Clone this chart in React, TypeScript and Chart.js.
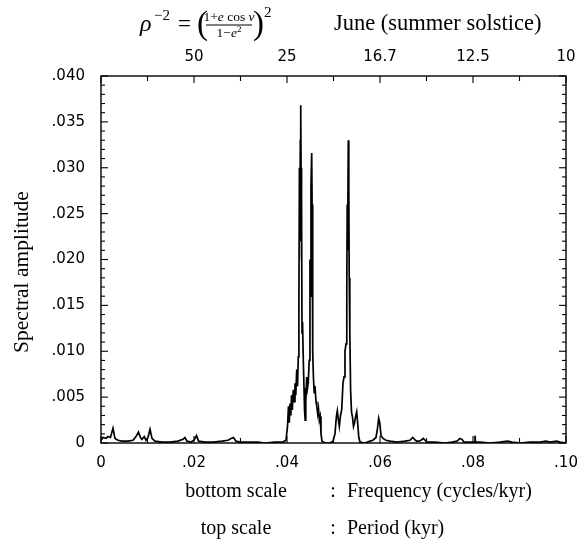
import React, { useEffect, useRef } from "react";
import { Chart, registerables } from "chart.js";

Chart.register(...registerables);

// Frequency (cycles/kyr)
const frequency = [
  0.0, 0.00043, 0.00108, 0.00151, 0.00204, 0.00258, 0.00301, 0.00366, 0.00452, 0.00581,
  0.00688, 0.00753, 0.00806, 0.00849, 0.00882, 0.00931, 0.00968, 0.01011, 0.01054, 0.01097,
  0.01161, 0.01312, 0.01484, 0.01656, 0.01763, 0.01806, 0.01849, 0.01935, 0.02, 0.02054,
  0.02097, 0.02237, 0.02409, 0.02602, 0.02731, 0.02796, 0.02849, 0.02903, 0.02989, 0.03204,
  0.03376, 0.03527, 0.03742, 0.03914, 0.03978, 0.04011, 0.04032, 0.04049, 0.04065, 0.04082,
  0.04097, 0.04114, 0.04135, 0.04151, 0.04172, 0.04189, 0.04209, 0.04226, 0.04243, 0.04256,
  0.04267, 0.04277, 0.04286, 0.04295, 0.04303, 0.0431, 0.04316, 0.04323, 0.04331, 0.0434,
  0.04353, 0.04366, 0.04378, 0.04391, 0.04404, 0.04424, 0.04441, 0.04458, 0.04477, 0.04494,
  0.04503, 0.04516, 0.04531, 0.0454, 0.04548, 0.04557, 0.04568, 0.04585, 0.04602, 0.04624,
  0.04641, 0.0466, 0.04677, 0.04695, 0.04714, 0.04731, 0.04753, 0.04817, 0.04925, 0.04989,
  0.05032, 0.0506, 0.05082, 0.05103, 0.05125, 0.05151, 0.05176, 0.05204, 0.05226, 0.05247,
  0.05269, 0.05286, 0.05295, 0.05303, 0.05318, 0.05329, 0.05338, 0.05351, 0.05368, 0.05387,
  0.05409, 0.0543, 0.05452, 0.0548, 0.05499, 0.05523, 0.05544, 0.0557, 0.05677, 0.05785,
  0.05849, 0.05914, 0.05946, 0.05972, 0.05996, 0.06022, 0.06065, 0.06129, 0.06215, 0.06366,
  0.06538, 0.06645, 0.06703, 0.06742, 0.06785, 0.06839, 0.06882, 0.06931, 0.06968, 0.07011,
  0.07183, 0.07398, 0.07548, 0.07656, 0.0772, 0.07763, 0.07806, 0.07935, 0.08032, 0.08043,
  0.08054, 0.08151, 0.08366, 0.08581, 0.08746, 0.08839, 0.09011, 0.09226, 0.09441, 0.0957,
  0.09656, 0.098, 0.09871, 0.1,
];

// Spectral amplitude
const amplitude = [
  0.0003, 0.0006, 0.0005, 0.0007, 0.0006, 0.0016, 0.0005, 0.0003, 0.0002, 0.0002,
  0.0003, 0.0007, 0.0012, 0.0006, 0.0004, 0.0007, 0.0003, 0.0006, 0.0015, 0.0005,
  0.0002, 0.0001, 0.0001, 0.0002, 0.0004, 0.0006, 0.0002, 0.0001, 0.0003, 0.0008,
  0.0002, 0.0001, 0.0001, 0.0002, 0.0003, 0.0005, 0.0006, 0.0002, 0.0001, 0.0001,
  0.0001, 0.0, 0.0001, 0.0001, 0.0003, 0.0018, 0.004, 0.0022, 0.0043, 0.003,
  0.0052, 0.0036, 0.0058, 0.0045, 0.0065, 0.0052, 0.008, 0.0062, 0.0094, 0.015,
  0.03, 0.022, 0.033, 0.0368, 0.03, 0.02, 0.026, 0.012, 0.0132, 0.0128,
  0.0085, 0.006, 0.0035, 0.0025, 0.0045, 0.0072, 0.006, 0.0066, 0.009, 0.02,
  0.016, 0.028, 0.0316, 0.026, 0.018, 0.01, 0.0072, 0.0055, 0.0062, 0.0045,
  0.004, 0.0032, 0.0038, 0.0025, 0.0029, 0.001, 0.0002, 0.0, 0.0, 0.0002,
  0.001, 0.0028, 0.0035, 0.0026, 0.0018, 0.003, 0.0036, 0.0065, 0.0072, 0.01,
  0.0108, 0.017, 0.026, 0.021, 0.033, 0.028, 0.018, 0.012, 0.0058, 0.0034,
  0.0028, 0.0018, 0.0022, 0.003, 0.0034, 0.002, 0.0006, 0.0001, 0.0, 0.0002,
  0.0003, 0.0006, 0.0016, 0.0027, 0.0022, 0.0008, 0.0005, 0.0003, 0.0002, 0.0001,
  0.0002, 0.0003, 0.0006, 0.0004, 0.0002, 0.0002, 0.0003, 0.0005, 0.0003, 0.0001,
  0.0001, 0.0, 0.0001, 0.0002, 0.0005, 0.0004, 0.0001, 0.0001, 0.0001, 0.0008,
  0.0001, 0.0001, 0.0, 0.0001, 0.0002, 0.0001, 0.0, 0.0001, 0.0001, 0.0002,
  0.0001, 0.0002, 0.0001, 0.0,
];

const bottomTickValues = [0, 0.02, 0.04, 0.06, 0.08, 0.1];
const bottomTickLabels = ["0", ".02", ".04", ".06", ".08", ".10"];
const topTickValues = [0.02, 0.04, 0.06, 0.08, 0.1];
const topTickLabels = ["50", "25", "16.7", "12.5", "10"];
const yTickValues = [0, 0.005, 0.01, 0.015, 0.02, 0.025, 0.03, 0.035, 0.04];
const yTickLabels = ["0", ".005", ".010", ".015", ".020", ".025", ".030", ".035", ".040"];

const SERIF = "'Liberation Serif', 'Times New Roman', serif";
const SANS = "'DejaVu Sans', sans-serif";

type Run = [string, string, number?];

function drawRuns(ctx: CanvasRenderingContext2D, x: number, y: number, runs: Run[]) {
  let cx = x;
  for (const [text, font, dy] of runs) {
    ctx.font = font;
    ctx.fillText(text, cx, y + (dy || 0));
    cx += ctx.measureText(text).width;
  }
  return cx;
}

function runsWidth(ctx: CanvasRenderingContext2D, runs: Run[]) {
  let w = 0;
  for (const [text, font] of runs) {
    ctx.font = font;
    w += ctx.measureText(text).width;
  }
  return w;
}

const decorPlugin = {
  id: "decor",
  afterDraw(chart: any) {
    const { ctx, chartArea: a, scales } = chart;
    const xs = scales.x;
    const ys = scales.y;
    ctx.save();
    ctx.strokeStyle = "#000";
    ctx.fillStyle = "#000";
    ctx.lineWidth = 1.4;
    ctx.strokeRect(a.left, a.top, a.right - a.left, a.bottom - a.top);

    const seg = (x1: number, y1: number, x2: number, y2: number) => {
      ctx.beginPath();
      ctx.moveTo(x1, y1);
      ctx.lineTo(x2, y2);
      ctx.stroke();
    };
    ctx.lineWidth = 1.1;
    for (let i = 0; i <= 40; i++) {
      const py = ys.getPixelForValue(i / 1000);
      const len = i % 5 === 0 ? 7 : 4;
      seg(a.left, py, a.left + len, py);
      seg(a.right, py, a.right - len, py);
    }
    for (let i = 0; i <= 10; i++) {
      const px = xs.getPixelForValue(i / 100);
      const len = i % 2 === 0 ? 7 : 5;
      seg(px, a.top, px, a.top + len);
      seg(px, a.bottom, px, a.bottom - len);
    }

    // y axis title
    ctx.save();
    ctx.translate(22, 272);
    ctx.rotate(-Math.PI / 2);
    ctx.textAlign = "center";
    ctx.textBaseline = "middle";
    ctx.font = `21.5px ${SERIF}`;
    ctx.fillText("Spectral amplitude", 0, 0);
    ctx.restore();

    ctx.textAlign = "left";
    ctx.textBaseline = "alphabetic";

    // title formula
    drawRuns(ctx, 140, 31, [["ρ", `italic 24px ${SERIF}`]]);
    drawRuns(ctx, 154, 20, [["−2", `15px ${SERIF}`]]);
    drawRuns(ctx, 178, 31, [["=", `23px ${SERIF}`]]);
    drawRuns(ctx, 197, 34, [["(", `33px ${SERIF}`]]);
    const num: Run[] = [
      ["1+", `13.5px ${SERIF}`],
      ["e", `italic 13.5px ${SERIF}`],
      [" cos ", `13.5px ${SERIF}`],
      ["v", `italic 13.5px ${SERIF}`],
    ];
    const nw = runsWidth(ctx, num);
    drawRuns(ctx, 229 - nw / 2, 21, num);
    ctx.lineWidth = 1;
    seg(206, 25, 252, 25);
    const den: Run[] = [
      ["1−", `13.5px ${SERIF}`],
      ["e", `italic 13.5px ${SERIF}`],
      ["2", `9px ${SERIF}`, -5],
    ];
    const dw = runsWidth(ctx, den);
    drawRuns(ctx, 229 - dw / 2, 37, den);
    drawRuns(ctx, 253, 34, [[")", `33px ${SERIF}`]]);
    drawRuns(ctx, 264, 17, [["2", `15px ${SERIF}`]]);
    drawRuns(ctx, 334, 30, [["June (summer solstice)", `22.5px ${SERIF}`]]);

    // bottom explanation lines
    ctx.font = `20px ${SERIF}`;
    ctx.textAlign = "center";
    ctx.fillText("bottom scale", 236, 497);
    ctx.fillText("top scale", 236, 534);
    ctx.fillText(":", 333, 497);
    ctx.fillText(":", 333, 534);
    ctx.textAlign = "left";
    ctx.fillText("Frequency (cycles/kyr)", 347, 497);
    ctx.fillText("Period (kyr)", 347, 534);
    ctx.restore();
  },
};

export default function App() {
  const canvasRef = useRef<HTMLCanvasElement | null>(null);

  useEffect(() => {
    if (!canvasRef.current) return;
    const tickFont = { family: SANS, size: 15 };
    const noPadX = (s: any, h: number) => {
      s.height = h;
      s.paddingLeft = 0;
      s.paddingRight = 0;
    };
    const chart = new Chart(canvasRef.current, {
      type: "scatter",
      data: {
        datasets: [
          {
            data: frequency.map((f, i) => ({ x: f, y: amplitude[i] })),
            borderColor: "#000",
            backgroundColor: "#000",
            borderWidth: 1.7,
            pointRadius: 0,
            showLine: true,
            fill: false,
            tension: 0,
          },
        ],
      },
      options: {
        animation: false,
        responsive: false,
        maintainAspectRatio: false,
        layout: { padding: { left: 0, right: 13, top: 0, bottom: 0 } },
        plugins: {
          legend: { display: false },
          tooltip: { enabled: false },
          title: { display: false },
        },
        scales: {
          x: {
            type: "linear",
            position: "bottom",
            min: 0,
            max: 0.1,
            grid: { display: false, drawTicks: false },
            border: { display: false },
            afterBuildTicks: (s: any) => {
              s.ticks = bottomTickValues.map((v) => ({ value: v }));
            },
            afterFit: (s: any) => noPadX(s, 104),
            ticks: {
              autoSkip: false,
              maxRotation: 0,
              padding: 11,
              color: "#000",
              font: tickFont,
              callback: (_v: any, i: number) => bottomTickLabels[i],
            },
          },
          x2: {
            type: "linear",
            position: "top",
            min: 0,
            max: 0.1,
            grid: { display: false, drawTicks: false },
            border: { display: false },
            afterBuildTicks: (s: any) => {
              s.ticks = topTickValues.map((v) => ({ value: v }));
            },
            afterFit: (s: any) => noPadX(s, 76),
            ticks: {
              autoSkip: false,
              maxRotation: 0,
              padding: 10,
              color: "#000",
              font: tickFont,
              callback: (_v: any, i: number) => topTickLabels[i],
            },
          },
          y: {
            type: "linear",
            position: "left",
            min: 0,
            max: 0.04,
            grid: { display: false, drawTicks: false },
            border: { display: false },
            afterBuildTicks: (s: any) => {
              s.ticks = yTickValues.map((v) => ({ value: v }));
            },
            afterFit: (s: any) => {
              s.width = 101;
              s.paddingTop = 0;
              s.paddingBottom = 0;
            },
            ticks: {
              autoSkip: false,
              padding: 16,
              color: "#000",
              font: tickFont,
              callback: (_v: any, i: number) => yTickLabels[i],
            },
          },
        },
      },
      plugins: [decorPlugin],
    } as any);
    return () => chart.destroy();
  }, []);

  return (
    <div
      style={{
        position: "fixed",
        left: 0,
        top: 0,
        width: 579,
        height: 547,
        background: "#fff",
      }}
    >
      <canvas
        ref={canvasRef}
        width={579}
        height={547}
        style={{ display: "block", width: 579, height: 547 }}
      />
    </div>
  );
}
